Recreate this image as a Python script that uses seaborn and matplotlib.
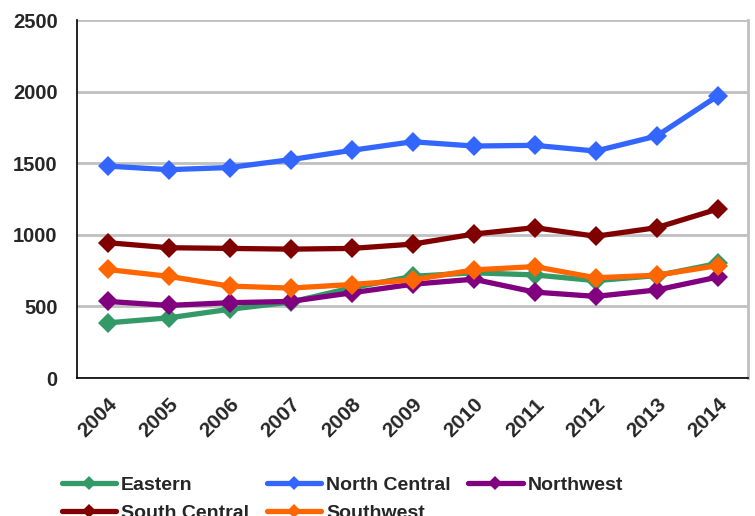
import numpy as np
import pandas as pd
import seaborn as sns
import matplotlib.pyplot as plt

# valores
anos = ['2004', '2005', '2006', '2007', '2008', '2009', '2010', '2011', '2012', '2013', '2014']
eastern = [385, 420, 480, 530, 630, 710, 735, 720, 680, 715, 800]
north_central = [1480, 1455, 1470, 1525, 1590, 1650, 1620, 1625, 1585, 1690, 1970]
northwest = [535, 507, 526, 535, 595, 655, 690, 600, 570, 615, 705]
south_central = [945, 910, 905, 900, 905, 935, 1005, 1050, 990, 1050, 1180]
southwest = [758, 710, 642, 628, 653, 685, 755, 778, 700, 718, 785]

regioes = ['Eastern', 'North Central', 'Northwest', 'South Central', 'Southwest']
cores = ['#339966', '#3366FF', '#800080', '#800000', '#FF6600']

df = pd.DataFrame({'Ano': anos, 'Eastern': eastern, 'North Central': north_central,
                   'Northwest': northwest, 'South Central': south_central,
                   'Southwest': southwest})
df_long = df.melt(id_vars='Ano', var_name='Regiao', value_name='Valor')

sns.set_style('white')
plt.rcParams['font.family'] = ['Liberation Sans', 'DejaVu Sans']
plt.rcParams['font.weight'] = 'bold'

fig = plt.figure(figsize=(7.55, 5.16), dpi=100)
ax = fig.add_axes([0.102, 0.2674, 0.889, 0.6938])

sns.lineplot(data=df_long, x='Ano', y='Valor', hue='Regiao', hue_order=regioes,
             palette=cores, marker='D', markersize=10, linewidth=3.8,
             markeredgewidth=0, ax=ax, sort=False)

ax.set_ylim(0, 2500)
ax.set_xlim(-0.5, 10.5)
ax.set_yticks([0, 500, 1000, 1500, 2000, 2500])
ax.yaxis.grid(True, color='#c0c0c0', linewidth=2)
ax.set_axisbelow(True)
ax.set_xlabel('')
ax.set_ylabel('')

# ticks do eixo x entre as categorias
ax.set_xticks(np.arange(11))
ax.set_xticklabels(anos, rotation=45, ha='right', rotation_mode='anchor',
                   fontsize=15, fontweight='bold')
ax.set_xticks(np.arange(-0.5, 11, 1), minor=True)
ax.tick_params(axis='x', which='major', length=0, pad=12)
ax.tick_params(axis='x', which='minor', length=5, color='#606060', width=1, direction='out')
ax.tick_params(axis='y', length=5, color='#606060', direction='out', labelsize=14.5, pad=9)
for t in ax.get_yticklabels():
    t.set_fontweight('bold')

ax.spines['top'].set_visible(False)
ax.spines['right'].set_color('#c0c0c0')
ax.spines['right'].set_linewidth(2)
ax.spines['left'].set_color('black')
ax.spines['bottom'].set_color('black')
ax.spines['left'].set_linewidth(1.2)
ax.spines['bottom'].set_linewidth(1.2)

# legenda em linhas (matplotlib preenche por coluna)
ax.get_legend().remove()
handles, labels = ax.get_legend_handles_labels()
ordem = [0, 3, 1, 4, 2]
leg = fig.legend([handles[i] for i in ordem], [labels[i] for i in ordem],
                 loc='upper left', bbox_to_anchor=(0.082, 0.077),
                 ncol=3, frameon=False, prop={'weight': 'bold', 'size': 14},
                 handlelength=2.8, handletextpad=0.25, columnspacing=0.9,
                 labelspacing=0.55, borderaxespad=0, borderpad=0)
for h in leg.legend_handles:
    h.set_markersize(7)

plt.savefig('out.png', dpi=100)
